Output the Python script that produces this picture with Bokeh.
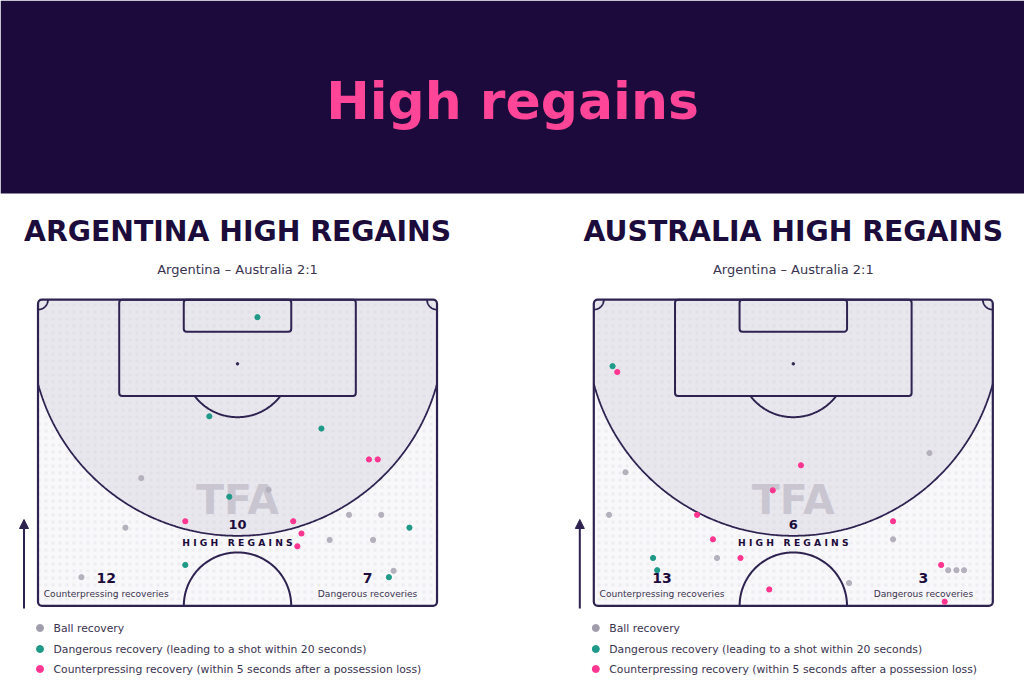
import numpy as np
from bokeh.plotting import figure
from bokeh.models import Range1d, Arrow, NormalHead
from bokeh.core.properties import value
from bokeh.embed import file_html
from bokeh.resources import INLINE

# ---------------- data (pitch metres: x across 0-68, y = distance from goal line) -----
page_title = "High regains"
panel_titles = ["ARGENTINA HIGH REGAINS", "AUSTRALIA HIGH REGAINS"]
match_label = "Argentina – Australia 2:1"
high_regains = [10, 6]
counterpress_totals = [12, 13]
dangerous_totals = [7, 3]
legend_labels = ["Ball recovery",
                 "Dangerous recovery (leading to a shot within 20 seconds)",
                 "Counterpressing recovery (within 5 seconds after a possession loss)"]

arg_ball_x = [17.6, 39.3, 14.9, 53.0, 58.5, 49.7, 57.1, 60.6, 7.4]
arg_ball_y = [30.6, 32.6, 39.1, 36.9, 36.9, 41.2, 41.2, 46.5, 47.6]
arg_danger_x = [37.4, 29.2, 48.3, 32.6, 25.1, 63.3, 59.8]
arg_danger_y = [3.0, 20.0, 22.1, 33.8, 45.5, 39.1, 47.6]
arg_counter_x = [56.4, 57.9, 25.1, 43.5, 44.9, 44.2]
arg_counter_y = [27.4, 27.4, 38.0, 38.0, 40.1, 42.3]

aus_ball_x = [5.4, 57.2, 2.6, 51.0, 21.0, 60.4, 61.8, 63.1, 43.5]
aus_ball_y = [29.6, 26.3, 36.9, 41.1, 44.3, 46.4, 46.4, 46.4, 48.6]
aus_danger_x = [3.2, 10.1, 10.8]
aus_danger_y = [11.4, 44.3, 46.4]
aus_counter_x = [4.0, 35.3, 30.5, 17.6, 51.0, 20.3, 25.0, 59.2, 29.9, 59.8]
aus_counter_y = [12.4, 28.4, 32.7, 36.9, 38.0, 41.1, 44.3, 45.5, 49.7, 51.8]

# ---------------- style ----------------
BAND = "#1c0a3c"
PINK_TITLE = "#ff4597"
INK = "#1c0c3c"
SUB = "#3a3350"
LINE = "#2d2250"
FILL_OUT = "#f8f7f9"
FILL_IN = "#e9e7ee"
GREY = "#b4b1bd"
TEAL = "#1f9a88"
PINK = "#ff3592"
FONT = value("DejaVu Sans")
NB = "\u00a0"

W, H = 1024, 683
p = figure(width=W, height=H, x_range=Range1d(0, W), y_range=Range1d(H, 0),
           output_backend="svg", toolbar_location=None, min_border=0,
           x_axis_location=None, y_axis_location=None, outline_line_color=None,
           background_fill_color="white", border_fill_color="white")
p.grid.visible = False

# header band + title
p.quad(left=0, right=1024, top=0, bottom=193, fill_color=BAND, line_color=None)
p.text(x=[512], y=[100], text=[page_title], text_font=FONT, text_font_style="bold",
       text_font_size=value("52px"), text_color=PINK_TITLE, text_align="center",
       text_baseline="middle")

# pitch geometry
PL, PW = 52.5, 68.0
ARC_C, ARC_R = 5.3, 35.2
SX, SY = 5.868, 5.83
origins = [(37.5, 299.2), (593.3, 299.2)]

datasets = [
    (arg_ball_x, arg_ball_y, arg_danger_x, arg_danger_y, arg_counter_x, arg_counter_y),
    (aus_ball_x, aus_ball_y, aus_danger_x, aus_danger_y, aus_counter_x, aus_counter_y),
]


def arc_pts(cx, cy, r, t0, t1, n=120):
    t = np.linspace(t0, t1, n)
    return cx + r * np.cos(t), cy + r * np.sin(t)


def spaced(s):
    return (NB * 3).join(NB.join(list(w)) for w in s.split(" "))


for i, (ox, oy) in enumerate(origins):
    xn, yn = f"px{i}", f"py{i}"
    p.extra_x_ranges[xn] = Range1d((0 - ox) / SX, (W - ox) / SX)
    p.extra_y_ranges[yn] = Range1d((H - oy) / SY, (0 - oy) / SY)
    kw = dict(x_range_name=xn, y_range_name=yn)
    cxp = ox + PW / 2 * SX

    # panel title and subtitle
    p.text(x=[cxp], y=[231], text=[panel_titles[i]], text_font=FONT,
           text_font_style="bold", text_font_size=value("28.3px"), text_color=INK,
           text_align="center", text_baseline="middle")
    p.text(x=[cxp], y=[268.5], text=[match_label], text_font=FONT,
           text_font_size=value("13px"), text_color=SUB, text_align="center",
           text_baseline="middle")

    # pitch base
    p.quad(left=0, right=PW, top=0, bottom=PL, fill_color=FILL_OUT, line_color=None,
           hatch_pattern="dot", hatch_color="#dcd9e2", hatch_alpha=0.35, hatch_scale=7,
           hatch_weight=1, **kw)
    # high zone
    t = np.linspace(0, 2 * np.pi, 400)
    zx = np.clip(PW / 2 + ARC_R * np.cos(t), 0, PW)
    zy = np.clip(ARC_C + ARC_R * np.sin(t), 0, PL)
    p.patch(zx, zy, fill_color=FILL_IN, line_color=None,
            hatch_pattern="dot", hatch_color="#d6d3dd", hatch_alpha=0.35, hatch_scale=7,
            hatch_weight=1, **kw)
    th0 = np.arccos((PW / 2) / ARC_R)
    ax_, ay_ = arc_pts(PW / 2, ARC_C, ARC_R, th0, np.pi - th0, 300)
    p.line(ax_, ay_, line_color=LINE, line_width=1.8, **kw)

    # watermark
    p.text(x=[cxp], y=[499], text=["TFA"], text_font=FONT, text_font_style="bold",
           text_font_size=value("41px"), text_color="#c4c1cc", text_alpha=0.85,
           text_align="center", text_baseline="middle")

    # boxes
    p.quad(left=PW / 2 - 20.16, right=PW / 2 + 20.16, top=0, bottom=16.5,
           fill_alpha=0, line_color=LINE, line_width=2, border_radius=3, **kw)
    p.quad(left=PW / 2 - 9.16, right=PW / 2 + 9.16, top=0, bottom=5.5,
           fill_alpha=0, line_color=LINE, line_width=2, border_radius=3, **kw)
    s0 = np.arcsin(5.5 / 9.15)
    pax, pay = arc_pts(PW / 2, 11, 9.15, s0, np.pi - s0)
    p.line(pax, pay, line_color=LINE, line_width=2, **kw)
    p.scatter([PW / 2], [11], size=2.5, color=LINE, **kw)
    ccx, ccy = arc_pts(PW / 2, PL, 9.15, np.pi, 2 * np.pi)
    p.line(ccx, ccy, line_color=LINE, line_width=2, **kw)
    k1x, k1y = arc_pts(0, 0, 1.7, 0, np.pi / 2, 30)
    p.line(k1x, k1y, line_color=LINE, line_width=1.8, **kw)
    k2x, k2y = arc_pts(PW, 0, 1.7, np.pi / 2, np.pi, 30)
    p.line(k2x, k2y, line_color=LINE, line_width=1.8, **kw)
    p.quad(left=0, right=PW, top=0, bottom=PL, fill_alpha=0, line_color=LINE,
           line_width=2.2, border_radius=4, **kw)

    # points
    bx, by, dx, dy, cx, cy = datasets[i]
    p.scatter(bx, by, size=5.2, color=GREY, **kw)
    p.scatter(dx, dy, size=5.2, color=TEAL, **kw)
    p.scatter(cx, cy, size=5.2, color=PINK, **kw)

    # central labels
    p.text(x=[cxp], y=[524], text=[str(high_regains[i])], text_font=FONT,
           text_font_style="bold", text_font_size=value("13px"), text_color=INK,
           text_align="center", text_baseline="middle")
    p.text(x=[cxp], y=[542], text=[spaced("HIGH REGAINS")], text_font=FONT,
           text_font_style="bold", text_font_size=value("9.2px"), text_color=INK,
           text_align="center", text_baseline="middle")
    lx, rx = ox + 68.2, ox + 329.6
    p.text(x=[lx, rx], y=[577.7, 577.7],
           text=[str(counterpress_totals[i]), str(dangerous_totals[i])],
           text_font=FONT, text_font_style="bold", text_font_size=value("14px"),
           text_color=INK, text_align="center", text_baseline="middle")
    p.text(x=[lx, rx], y=[593, 593],
           text=["Counterpressing recoveries", "Dangerous recoveries"],
           text_font=FONT, text_font_size=value("9.1px"), text_color=SUB,
           text_align="center", text_baseline="middle")

    # arrow
    p.add_layout(Arrow(x_start=ox - 14, y_start=608, x_end=ox - 14, y_end=519,
                       line_color=LINE, line_width=2,
                       end=NormalHead(size=9, fill_color=LINE, line_color=LINE)))

    # legend
    lgx = ox + 2
    ys = [627.5, 648.5, 668.5]
    p.scatter([lgx] * 3, ys, size=7, color=["#a19dac", TEAL, PINK])
    p.text(x=[lgx + 13.5] * 3, y=ys, text=legend_labels, text_font=FONT,
           text_font_size=value("10.8px"), text_color=SUB, text_align="left",
           text_baseline="middle")

open("out.html", "w").write(file_html(p, INLINE))
